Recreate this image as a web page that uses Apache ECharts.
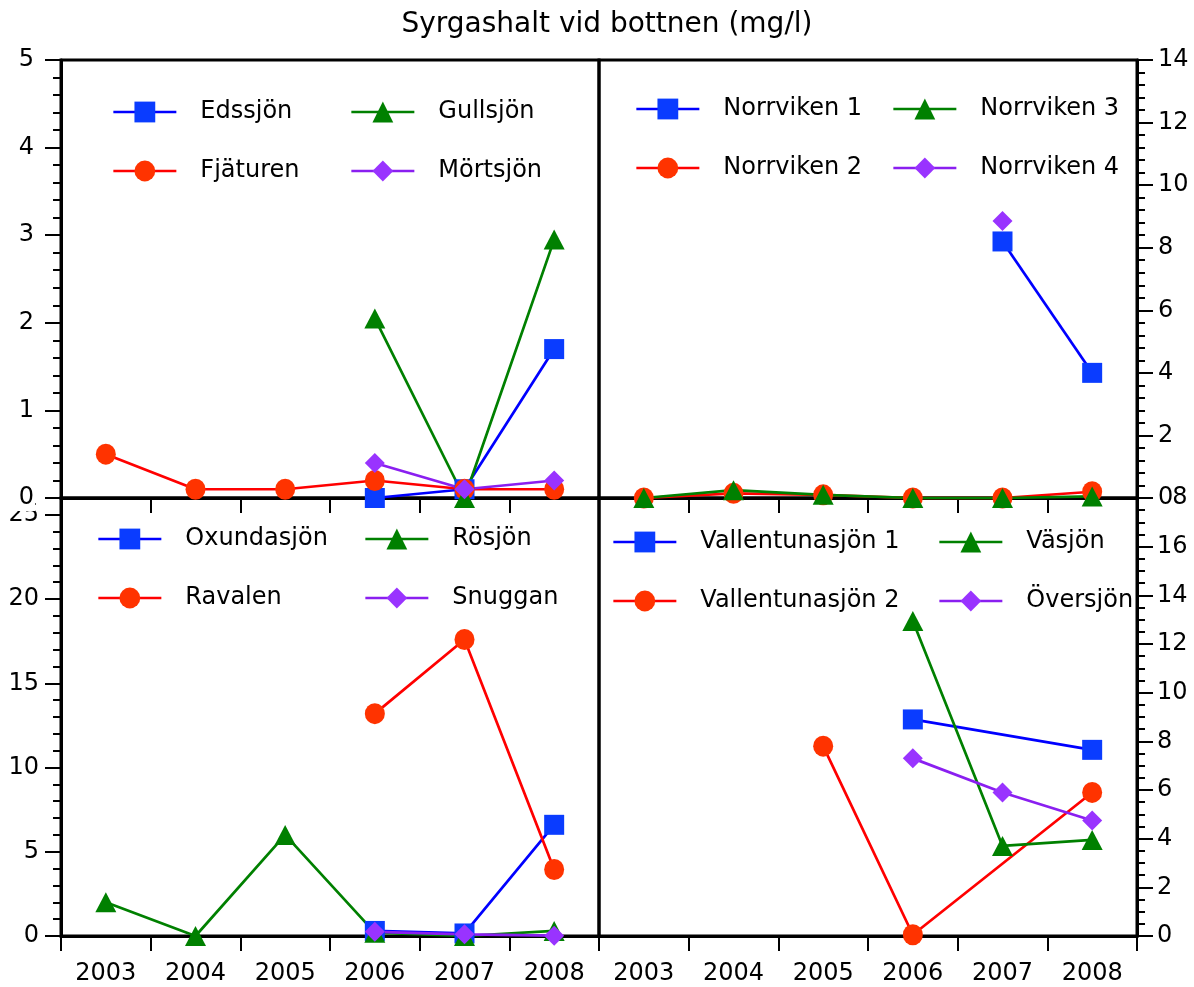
<!DOCTYPE html>
<html>
<head>
<meta charset="utf-8">
<script src="https://cdn.jsdelivr.net/npm/echarts@6/dist/echarts.min.js"></script>
<style>
html,body{margin:0;padding:0;background:#fff;}
#chart{width:1194px;height:987px;}
</style>
</head>
<body>
<div id="chart"></div>
<script>
// ---- data ----
const years = ['2003','2004','2005','2006','2007','2008'];
const titleText = 'Syrgashalt vid bottnen (mg/l)';

// panel 1 (top left)
const edssjon   = [null, null, null, 0,    0.1,  1.7];
const fjaturen  = [0.5,  0.1,  0.1,  0.2,  0.1,  0.1];
const gullsjon  = [null, null, null, 2.05, 0,    2.95];
const mortsjon  = [null, null, null, 0.4,  0.1,  0.2];
// panel 2 (top right)
const norrviken1 = [null, null, null, null, 8.2,  4.0];
const norrviken2 = [0,    0.15, 0.1,  0,    0,    0.2];
const norrviken3 = [0,    0.25, 0.1,  0,    0,    0.05];
const norrviken4 = [null, null, null, null, 8.85, null];
// panel 3 (bottom left)
const oxundasjon = [null, null, null, 0.3,  0.15, 6.6];
const ravalen    = [null, null, null, 13.2, 17.6, 3.95];
const rosjon     = [2.0,  0,    6.0,  0.2,  0,    0.3];
const snuggan    = [null, null, null, 0.25, 0.1,  0.02];
// panel 4 (bottom right)
const vallentuna1 = [null, null, null, 8.9,  null, 7.65];
const vallentuna2 = [null, null, 7.8,  0.05, null, 5.9];
const vasjon      = [null, null, null, 12.95, 3.7, 3.95];
const oversjon    = [null, null, null, 7.3,  5.9,  4.75];

// axis tick settings
const yTL = {min: 0, max: 5,  interval: 1, minor: 5};
const yTR = {min: 0, max: 14, interval: 2, minor: 5};
const yBL = {min: 0, max: 26, interval: 5, minor: 5};
const yBR = {min: 0, max: 18, interval: 2, minor: 4};

// ---- styles ----
const FONT = 'DejaVu Sans';
const LW = 2.7;
const styles = {
  blue:   {line: '#0000ff', fill: '#0a3cff', symbol: 'rect',     size: [20, 20]},
  red:    {line: '#ff0000', fill: '#ff3300', symbol: 'circle',   size: [20, 21]},
  green:  {line: '#008000', fill: '#008000', symbol: 'triangle', size: [21, 20]},
  purple: {line: '#8a1ff0', fill: '#9933ff', symbol: 'diamond',  size: [20, 20]}
};

function mkSeries(name, data, key, idx) {
  const s = styles[key];
  return {
    name: name, type: 'line', data: data,
    xAxisIndex: idx, yAxisIndex: idx,
    connectNulls: true, clip: false,
    symbol: s.symbol, symbolSize: s.size,
    lineStyle: {color: s.line, width: LW},
    itemStyle: {color: s.fill},
    emphasis: {disabled: true},
    animation: false
  };
}

const series = [
  mkSeries('Edssjön', edssjon, 'blue', 0),
  mkSeries('Fjäturen', fjaturen, 'red', 0),
  mkSeries('Gullsjön', gullsjon, 'green', 0),
  mkSeries('Mörtsjön', mortsjon, 'purple', 0),
  mkSeries('Norrviken 1', norrviken1, 'blue', 1),
  mkSeries('Norrviken 2', norrviken2, 'red', 1),
  mkSeries('Norrviken 3', norrviken3, 'green', 1),
  mkSeries('Norrviken 4', norrviken4, 'purple', 1),
  mkSeries('Oxundasjön', oxundasjon, 'blue', 2),
  mkSeries('Ravalen', ravalen, 'red', 2),
  mkSeries('Rösjön', rosjon, 'green', 2),
  mkSeries('Snuggan', snuggan, 'purple', 2),
  mkSeries('Vallentunasjön 1', vallentuna1, 'blue', 3),
  mkSeries('Vallentunasjön 2', vallentuna2, 'red', 3),
  mkSeries('Väsjön', vasjon, 'green', 3),
  mkSeries('Översjön', oversjon, 'purple', 3)
];

// legend placement: [name, lineStartX, rowCenterY]
const legendPos = [
  ['Edssjön', 112, 112], ['Gullsjön', 350, 112],
  ['Fjäturen', 112, 171], ['Mörtsjön', 350, 171],
  ['Norrviken 1', 635, 109], ['Norrviken 3', 892, 109],
  ['Norrviken 2', 635, 168], ['Norrviken 4', 892, 168],
  ['Oxundasjön', 97, 539], ['Rösjön', 364, 539],
  ['Ravalen', 97, 598], ['Snuggan', 364, 598],
  ['Vallentunasjön 1', 612, 542], ['Väsjön', 938, 542],
  ['Vallentunasjön 2', 612, 601], ['Översjön', 938, 601]
];
const legends = legendPos.map(function (p) {
  return {
    data: [p[0]], left: p[1], top: p[2] - 13, padding: 0,
    itemWidth: 63, itemHeight: 26, selectedMode: false,
    lineStyle: {width: LW},
    textStyle: {fontFamily: FONT, fontSize: 24, color: '#000', padding: [0, 0, 0, 19], lineHeight: 26}
  };
});

const grids = [
  {left: 61,  top: 60,  width: 538, height: 438},
  {left: 599, top: 60,  width: 538, height: 438},
  {left: 61,  top: 498, width: 538, height: 438},
  {left: 599, top: 498, width: 538, height: 438}
].map(function (g) {
  return Object.assign({show: true, borderColor: '#000', borderWidth: 3, backgroundColor: 'transparent',
    containLabel: false, outerBoundsMode: 'none'}, g);
});

function mkX(idx, showLabels) {
  return {
    type: 'category', gridIndex: idx, data: years, boundaryGap: true,
    axisLine: {show: true, lineStyle: {color: '#000', width: 3}},
    axisTick: {show: true, interval: 0, length: 15, lineStyle: {color: '#000', width: 2}},
    axisLabel: {show: showLabels, interval: 0, margin: 25, fontFamily: FONT, fontSize: 24, color: '#000', lineHeight: 26},
    splitLine: {show: false}
  };
}

function mkY(idx, cfg, pos, margin, top) {
  const label = {
    margin: margin, fontFamily: FONT, fontSize: 24, color: '#000', lineHeight: 26,
    showMaxLabel: cfg.max % cfg.interval === 0
  };
  if (top) {
    label.backgroundColor = '#fff';
    label.padding = pos === 'left' ? [0, 1, 0, 22] : [0, 0, 0, 1];
  }
  return {
    type: 'value', gridIndex: idx, position: pos,
    min: cfg.min, max: cfg.max, interval: cfg.interval,
    z: top ? 1 : 0,
    axisLine: {show: true, lineStyle: {color: '#000', width: 3}},
    axisTick: {show: true, length: 16, lineStyle: {color: '#000', width: 2}},
    minorTick: {show: true, splitNumber: cfg.minor, length: 8, lineStyle: {color: '#000', width: 2}},
    axisLabel: label,
    splitLine: {show: false},
    minorSplitLine: {show: false}
  };
}

const option = {
  backgroundColor: '#fff',
  animation: false,
  title: {
    text: titleText, left: 607, textAlign: 'center', top: 9, padding: 0,
    textStyle: {fontFamily: FONT, fontSize: 28, fontWeight: 'normal', color: '#000', lineHeight: 32}
  },
  legend: legends,
  grid: grids,
  xAxis: [mkX(0, false), mkX(1, false), mkX(2, true), mkX(3, true)],
  yAxis: [
    mkY(0, yTL, 'left', 26, true),
    mkY(1, yTR, 'right', 20, true),
    mkY(2, yBL, 'left', 22, false),
    mkY(3, yBR, 'right', 20, false)
  ],
  series: series
};

const chart = echarts.init(document.getElementById('chart'), null, {renderer: 'canvas'});
chart.setOption(option);
</script>
</body>
</html>
